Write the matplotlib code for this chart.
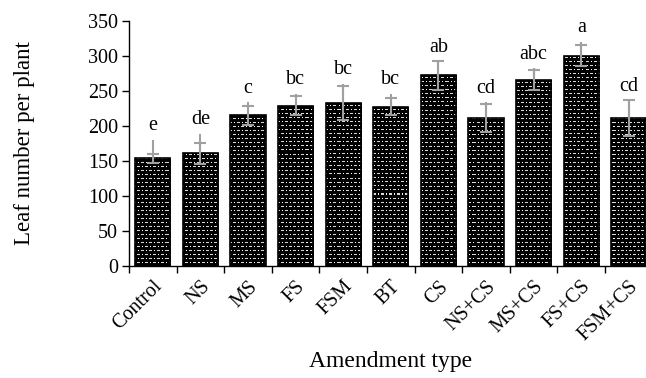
import matplotlib
matplotlib.use("Agg")
import matplotlib.pyplot as plt
import numpy as np

plt.rcParams['font.family'] = ['Liberation Serif', 'DejaVu Serif']

amendments = ['Control', 'NS', 'MS', 'FS', 'FSM', 'BT', 'CS',
              'NS+CS', 'MS+CS', 'FS+CS', 'FSM+CS']
leaf_number = [154, 161, 215, 229, 233, 227, 272, 211, 265, 300, 211]
leaf_se = [6.5, 15, 14, 14, 24, 12, 20.5, 20.5, 14, 15, 25.5]
whisker_top = [180, 189, 234, 246, 260, 246, 292, 234, 282, 320, 237]
groups = ['e', 'de', 'c', 'bc', 'bc', 'bc', 'ab', 'cd', 'abc', 'a', 'cd']

W, H = 646, 378
fig = plt.figure(figsize=(W / 100, H / 100), dpi=100)
ax_l, ax_b, ax_w, ax_h = 129 / W, 112 / H, 523.6 / W, 245.3 / H
ax = fig.add_axes([ax_l, ax_b, ax_w, ax_h])

x = np.arange(len(amendments))
bars = ax.bar(x, leaf_number, width=0.74, facecolor='none',
              edgecolor='black', linewidth=1.2, zorder=3)

# black fill with staggered rows of light dashes and white dots
ph, pw = int(round(ax_h * H)), int(round(ax_w * W))
tex = np.zeros((ph, pw))
for r in range(ph):
    for c in range(pw):
        k = c % 8
        if r % 8 == 1:
            if k in (0, 1, 2):
                tex[r, c] = 0.85
            elif k == 5:
                tex[r, c] = 1.0
        elif r % 8 == 5:
            if k in (4, 5, 6):
                tex[r, c] = 0.85
            elif k == 1:
                tex[r, c] = 1.0
for b in bars:
    im = ax.imshow(tex, extent=(-0.5, 10.5, 0, 350), cmap='gray',
                   vmin=0, vmax=1, aspect='auto', interpolation='nearest',
                   zorder=2)
    im.set_clip_path(b)

gray = '#a0a0a0'
ax.errorbar(x, leaf_number, yerr=leaf_se, fmt='none', ecolor=gray,
            elinewidth=1.5, capsize=4.3, capthick=1.5, zorder=4)
ax.vlines(x, np.array(leaf_number), whisker_top, color=gray, lw=1.5, zorder=4)

for xi, top, g in zip(x, whisker_top, groups):
    ax.annotate(g, (xi, top), xytext=(0, 10), textcoords='offset points',
                ha='center', va='center', fontsize=14.5)

ax.set_xlim(-0.5, 10.5)
ax.set_ylim(0, 350)
ax.set_yticks(range(0, 351, 50))
ax.set_xticks(x)
ax.set_xticklabels(amendments, rotation=45, ha='right',
                   rotation_mode='anchor', fontsize=14.5)
ax.set_xticks(np.arange(-0.5, 10.6, 1), minor=True)
ax.tick_params(axis='x', which='major', length=0, pad=8)
ax.tick_params(axis='x', which='minor', length=5, width=1)
ax.tick_params(axis='y', length=5, width=1, labelsize=14.5, pad=3)
for s in ['top', 'right']:
    ax.spines[s].set_visible(False)
ax.spines['left'].set_linewidth(1)
ax.spines['bottom'].set_linewidth(1)

ax.set_xlabel('Amendment type', fontsize=17)
ax.xaxis.set_label_coords(0.5, -0.345)
ax.set_ylabel('Leaf number per plant', fontsize=16.5)
ax.yaxis.set_label_coords(-0.18, 0.5)

fig.savefig('out.png', dpi=100)
